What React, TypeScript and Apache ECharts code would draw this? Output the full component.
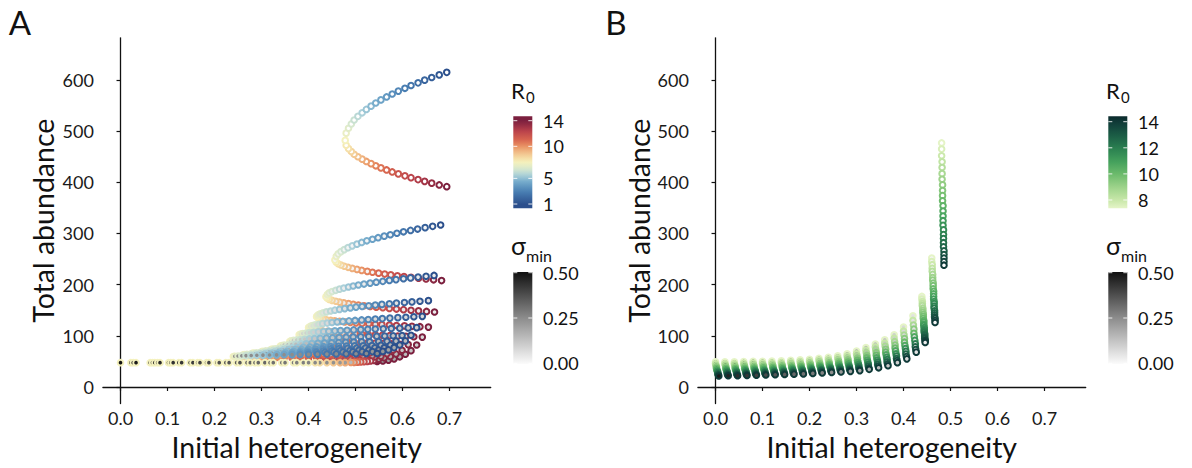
import React, { useEffect, useRef } from "react";
import * as echarts from "echarts";

// ---------------- ticks ----------------
const xTicks = [0, 0.1, 0.2, 0.3, 0.4, 0.5, 0.6, 0.7];
const yTicks = [0, 100, 200, 300, 400, 500, 600];
const r0TicksA = [1, 5, 10, 14];
const r0TicksB = [8, 10, 12, 14];
const sigmaTicks = [0, 0.25, 0.5];

// ---------------- panel A ----------------
const r0A = [1, 1.325, 1.65, 1.975, 2.3, 2.625, 2.95, 3.275, 3.6, 3.925, 4.25, 4.575, 4.9, 5.225, 5.55, 5.875, 6.2, 6.525, 6.85, 7.175, 7.5, 7.825, 8.15, 8.475, 8.8, 9.125, 9.45, 9.775, 10.1, 10.425, 10.75, 11.075, 11.4, 11.725, 12.05, 12.375, 12.7, 13.025, 13.35, 13.675, 14];
const sigmaA = [0, 0.02, 0.04, 0.06, 0.08, 0.1, 0.12, 0.14, 0.16, 0.18, 0.2, 0.22, 0.24];

const arcAX: number[][] = [
  [0.694, 0.678, 0.662, 0.647, 0.633, 0.618, 0.605, 0.591, 0.578, 0.566, 0.554, 0.543, 0.533, 0.523, 0.514, 0.505, 0.497, 0.491, 0.485, 0.48, 0.478, 0.48, 0.485, 0.491, 0.497, 0.505, 0.514, 0.523, 0.533, 0.543, 0.554, 0.566, 0.578, 0.591, 0.605, 0.618, 0.633, 0.647, 0.662, 0.678, 0.694],
  [0.681, 0.664, 0.648, 0.632, 0.617, 0.602, 0.588, 0.574, 0.561, 0.548, 0.536, 0.524, 0.513, 0.503, 0.493, 0.484, 0.476, 0.469, 0.463, 0.459, 0.456, 0.459, 0.463, 0.469, 0.476, 0.484, 0.493, 0.503, 0.513, 0.525, 0.536, 0.549, 0.562, 0.575, 0.589, 0.603, 0.618, 0.634, 0.65, 0.666, 0.683],
  [0.667, 0.65, 0.633, 0.617, 0.602, 0.586, 0.572, 0.558, 0.544, 0.531, 0.518, 0.506, 0.495, 0.485, 0.475, 0.466, 0.458, 0.45, 0.444, 0.44, 0.437, 0.44, 0.444, 0.45, 0.458, 0.466, 0.475, 0.485, 0.495, 0.506, 0.518, 0.531, 0.544, 0.558, 0.572, 0.587, 0.602, 0.618, 0.634, 0.651, 0.668],
  [0.655, 0.637, 0.62, 0.604, 0.587, 0.572, 0.556, 0.542, 0.528, 0.514, 0.501, 0.489, 0.477, 0.466, 0.456, 0.447, 0.438, 0.431, 0.425, 0.42, 0.417, 0.42, 0.425, 0.431, 0.438, 0.447, 0.456, 0.466, 0.477, 0.489, 0.501, 0.514, 0.528, 0.542, 0.556, 0.572, 0.587, 0.604, 0.62, 0.637, 0.655],
  [0.642, 0.624, 0.607, 0.59, 0.573, 0.557, 0.542, 0.527, 0.513, 0.499, 0.486, 0.473, 0.461, 0.45, 0.44, 0.43, 0.422, 0.414, 0.408, 0.403, 0.4, 0.403, 0.408, 0.414, 0.422, 0.43, 0.44, 0.45, 0.461, 0.473, 0.486, 0.499, 0.513, 0.527, 0.542, 0.557, 0.573, 0.59, 0.607, 0.624, 0.642],
  [0.63, 0.612, 0.594, 0.576, 0.559, 0.542, 0.526, 0.511, 0.496, 0.482, 0.468, 0.456, 0.443, 0.432, 0.421, 0.411, 0.402, 0.395, 0.388, 0.383, 0.38, 0.383, 0.388, 0.395, 0.402, 0.411, 0.421, 0.432, 0.443, 0.456, 0.468, 0.482, 0.496, 0.511, 0.526, 0.542, 0.559, 0.576, 0.594, 0.612, 0.63],
  [0.618, 0.599, 0.58, 0.562, 0.545, 0.528, 0.511, 0.495, 0.48, 0.465, 0.451, 0.438, 0.425, 0.413, 0.402, 0.392, 0.383, 0.375, 0.368, 0.363, 0.36, 0.363, 0.368, 0.375, 0.383, 0.392, 0.402, 0.413, 0.425, 0.438, 0.451, 0.465, 0.48, 0.495, 0.511, 0.528, 0.545, 0.562, 0.58, 0.599, 0.618],
  [0.606, 0.586, 0.567, 0.549, 0.53, 0.513, 0.496, 0.479, 0.464, 0.449, 0.434, 0.42, 0.407, 0.395, 0.384, 0.373, 0.364, 0.356, 0.348, 0.343, 0.34, 0.343, 0.348, 0.356, 0.364, 0.373, 0.384, 0.395, 0.407, 0.42, 0.434, 0.449, 0.464, 0.479, 0.496, 0.513, 0.53, 0.549, 0.567, 0.586, 0.606],
  [0.594, 0.574, 0.554, 0.535, 0.516, 0.498, 0.481, 0.464, 0.447, 0.432, 0.417, 0.403, 0.389, 0.377, 0.365, 0.354, 0.345, 0.336, 0.329, 0.323, 0.32, 0.323, 0.329, 0.336, 0.345, 0.354, 0.365, 0.377, 0.389, 0.403, 0.417, 0.432, 0.447, 0.464, 0.481, 0.498, 0.516, 0.535, 0.554, 0.574, 0.594],
  [0.582, 0.561, 0.541, 0.521, 0.502, 0.483, 0.465, 0.448, 0.431, 0.415, 0.4, 0.385, 0.371, 0.358, 0.346, 0.335, 0.325, 0.316, 0.309, 0.303, 0.3, 0.303, 0.309, 0.316, 0.325, 0.335, 0.346, 0.358, 0.371, 0.385, 0.4, 0.415, 0.431, 0.448, 0.465, 0.483, 0.502, 0.521, 0.541, 0.561, 0.582],
  [0.57, 0.549, 0.528, 0.507, 0.488, 0.468, 0.45, 0.432, 0.415, 0.398, 0.383, 0.368, 0.353, 0.34, 0.328, 0.316, 0.306, 0.297, 0.289, 0.283, 0.28, 0.283, 0.289, 0.297, 0.306, 0.316, 0.328, 0.34, 0.353, 0.368, 0.383, 0.398, 0.415, 0.432, 0.45, 0.468, 0.488, 0.507, 0.528, 0.549, 0.57],
  [0.558, 0.536, 0.514, 0.494, 0.473, 0.454, 0.435, 0.417, 0.399, 0.382, 0.365, 0.35, 0.335, 0.322, 0.309, 0.297, 0.287, 0.277, 0.269, 0.263, 0.26, 0.263, 0.269, 0.277, 0.287, 0.297, 0.309, 0.322, 0.335, 0.35, 0.365, 0.382, 0.399, 0.417, 0.435, 0.454, 0.473, 0.494, 0.514, 0.536, 0.558],
  [0.546, 0.523, 0.501, 0.48, 0.459, 0.439, 0.419, 0.4, 0.382, 0.365, 0.348, 0.332, 0.317, 0.303, 0.29, 0.278, 0.267, 0.258, 0.25, 0.243, 0.24, 0.243, 0.25, 0.258, 0.267, 0.278, 0.29, 0.303, 0.317, 0.332, 0.348, 0.365, 0.382, 0.4, 0.419, 0.439, 0.459, 0.48, 0.501, 0.523, 0.546],
];
const arcAY: number[][] = [
  [615, 610, 604.9, 599.7, 594.5, 589.2, 583.8, 578.3, 572.7, 566.9, 561.1, 555.1, 548.9, 542.5, 535.9, 529, 521.8, 514.1, 505.6, 496.1, 482, 472.4, 465.9, 460.2, 454.9, 450, 445.3, 440.8, 436.5, 432.3, 428.2, 424.2, 420.3, 416.5, 412.7, 409.1, 405.4, 401.9, 398.4, 394.9, 391.5],
  [316.6, 314, 311.4, 308.7, 306, 303.3, 300.5, 297.6, 294.8, 291.8, 288.8, 285.7, 282.5, 279.2, 275.8, 272.3, 268.5, 264.5, 260.2, 255.3, 248, 243.8, 240.9, 238.4, 236, 233.9, 231.8, 229.8, 227.9, 226, 224.2, 222.5, 220.7, 219.1, 217.4, 215.8, 214.2, 212.6, 211, 209.5, 208],
  [218, 216.4, 214.8, 213.2, 211.6, 209.9, 208.3, 206.5, 204.8, 203, 201.2, 199.3, 197.4, 195.4, 193.3, 191.2, 188.9, 186.5, 183.9, 180.9, 176.5, 173.3, 171.2, 169.3, 167.5, 165.9, 164.3, 162.9, 161.4, 160, 158.7, 157.3, 156, 154.8, 153.5, 152.3, 151.1, 149.9, 148.8, 147.6, 146.5],
  [168.7, 167.5, 166.3, 165.1, 163.9, 162.6, 161.4, 160.1, 158.8, 157.4, 156.1, 154.6, 153.2, 151.7, 150.1, 148.5, 146.8, 145, 143, 140.8, 137.5, 135.3, 133.9, 132.6, 131.4, 130.3, 129.2, 128.2, 127.2, 126.2, 125.3, 124.4, 123.5, 122.7, 121.8, 121, 120.2, 119.4, 118.6, 117.8, 117],
  [138, 137.2, 136.3, 135.5, 134.6, 133.7, 132.8, 131.9, 131, 130, 129.1, 128.1, 127.1, 126, 124.9, 123.8, 122.6, 121.3, 119.9, 118.3, 116, 114, 112.7, 111.5, 110.5, 109.5, 108.5, 107.6, 106.7, 105.8, 105, 104.2, 103.4, 102.6, 101.8, 101.1, 100.4, 99.6, 98.9, 98.2, 97.5],
  [116, 115.5, 114.9, 114.4, 113.8, 113.3, 112.7, 112.1, 111.5, 110.9, 110.3, 109.7, 109, 108.4, 107.7, 107, 106.2, 105.4, 104.5, 103.5, 102, 99.9, 98.4, 97.2, 96, 94.9, 93.9, 92.9, 91.9, 91, 90.1, 89.2, 88.4, 87.5, 86.7, 85.9, 85.1, 84.3, 83.5, 82.8, 82],
  [101, 100.5, 100.1, 99.6, 99.2, 98.7, 98.2, 97.7, 97.2, 96.7, 96.1, 95.6, 95, 94.5, 93.9, 93.2, 92.6, 91.9, 91.1, 90.3, 89, 87.1, 85.8, 84.7, 83.6, 82.6, 81.7, 80.8, 79.9, 79.1, 78.3, 77.5, 76.7, 76, 75.2, 74.5, 73.8, 73.1, 72.4, 71.7, 71],
  [90, 89.6, 89.2, 88.9, 88.5, 88.1, 87.7, 87.2, 86.8, 86.4, 85.9, 85.5, 85, 84.5, 84.1, 83.5, 83, 82.4, 81.8, 81.1, 80, 78.3, 77.2, 76.1, 75.2, 74.3, 73.5, 72.7, 72, 71.2, 70.5, 69.8, 69.1, 68.4, 67.8, 67.1, 66.5, 65.8, 65.2, 64.6, 64],
  [82, 81.7, 81.3, 81, 80.6, 80.3, 79.9, 79.5, 79.1, 78.7, 78.4, 77.9, 77.5, 77.1, 76.6, 76.2, 75.7, 75.2, 74.6, 74, 73, 71.5, 70.5, 69.6, 68.8, 68, 67.3, 66.6, 66, 65.3, 64.7, 64.1, 63.5, 62.9, 62.3, 61.7, 61.2, 60.6, 60.1, 59.5, 59],
  [77, 76.7, 76.4, 76.1, 75.8, 75.4, 75.1, 74.8, 74.5, 74.1, 73.8, 73.4, 73, 72.6, 72.2, 71.8, 71.4, 70.9, 70.4, 69.8, 69, 68.7, 68.4, 68.2, 67.9, 67.6, 67.3, 67, 66.6, 66.2, 65.6, 65.1, 64.4, 63.7, 62.8, 62, 61, 59.9, 58.6, 57, 55],
  [72.5, 72.2, 72, 71.7, 71.4, 71.1, 70.9, 70.6, 70.3, 70, 69.7, 69.3, 69, 68.7, 68.3, 68, 67.6, 67.2, 66.7, 66.2, 65.5, 65.2, 65, 64.7, 64.5, 64.2, 63.9, 63.7, 63.3, 62.9, 62.4, 61.9, 61.2, 60.6, 59.8, 59, 58.1, 57.1, 55.9, 54.3, 52.5],
  [69.5, 69.2, 69, 68.7, 68.4, 68.1, 67.9, 67.6, 67.3, 67, 66.7, 66.3, 66, 65.7, 65.3, 65, 64.6, 64.2, 63.7, 63.2, 62.5, 62.3, 62, 61.8, 61.6, 61.4, 61.1, 60.9, 60.5, 60.2, 59.7, 59.3, 58.7, 58.1, 57.4, 56.8, 55.9, 55, 54, 52.6, 51],
  [65.5, 65.3, 65, 64.8, 64.6, 64.3, 64.1, 63.8, 63.6, 63.3, 63.1, 62.8, 62.5, 62.2, 61.9, 61.6, 61.3, 60.9, 60.6, 60.1, 59.5, 59.3, 59.1, 58.9, 58.7, 58.6, 58.4, 58.2, 57.9, 57.6, 57.2, 56.8, 56.4, 55.9, 55.3, 54.8, 54.1, 53.3, 52.5, 51.3, 50],
];

const flatX = [0, 0.022, 0.027, 0.033, 0.063, 0.068, 0.073, 0.079, 0.084, 0.102, 0.107, 0.112, 0.124, 0.13, 0.148, 0.154, 0.164, 0.169, 0.183, 0.188, 0.205, 0.21, 0.224, 0.231, 0.247, 0.254, 0.269, 0.276, 0.286, 0.293, 0.307, 0.318, 0.325, 0.343, 0.35, 0.368, 0.375, 0.389, 0.4, 0.414, 0.424, 0.439, 0.453, 0.467, 0.478, 0.49, 0.497, 0.504, 0.511, 0.518, 0.525, 0.532, 0.539, 0.546];
const flatY = [47.5, 47.5, 47.5, 47.5, 47.5, 47.5, 47.5, 47.5, 47.5, 47.5, 47.5, 47.5, 47.5, 47.5, 47.5, 47.5, 47.5, 47.5, 47.5, 47.5, 47.5, 47.5, 47.5, 47.5, 47.5, 47.5, 47.5, 47.5, 47.5, 47.5, 47.5, 47.5, 47.5, 47.5, 47.5, 47.5, 47.5, 47.5, 47.5, 47.5, 47.5, 47.5, 47.5, 47.5, 47.5, 48, 48, 48.5, 49, 49.5, 50, 51, 52, 53];
const flatR0 = [7.5, 7.5, 7.5, 7.5, 7.5, 7.5, 7.5, 7.5, 7.5, 7.5, 7.5, 7.5, 7.5, 7.5, 7.5, 7.5, 7.5, 7.5, 7.5, 7.5, 7.5, 7.5, 7.5, 7.5, 7.5, 7.5, 7.5, 7.5, 7.5, 7.5, 7.5, 7.5, 7.5, 7.5, 7.5, 7.5, 7.5, 7.5, 7.5, 8, 8.2, 8.5, 8.8, 9.2, 9.5, 10, 10.5, 11, 11.5, 12, 12.5, 13, 13.5, 14];
const flatSigma = [0.5, 0.49, 0.48, 0.48, 0.46, 0.46, 0.46, 0.45, 0.45, 0.44, 0.44, 0.43, 0.43, 0.42, 0.41, 0.41, 0.4, 0.4, 0.39, 0.39, 0.38, 0.37, 0.37, 0.36, 0.35, 0.35, 0.34, 0.33, 0.33, 0.32, 0.32, 0.31, 0.3, 0.29, 0.29, 0.28, 0.27, 0.27, 0.26, 0.25, 0.25, 0.24, 0.23, 0.22, 0.21, 0.15, 0.12, 0.1, 0.08, 0.06, 0.05, 0.04, 0.03, 0.02];

// ---------------- panel B ----------------
const r0BLong = [7.4, 7.66, 7.93, 8.19, 8.46, 8.72, 8.98, 9.25, 9.51, 9.78, 10.04, 10.3, 10.57, 10.83, 11.1, 11.36, 11.62, 11.89, 12.15, 12.42, 12.68, 12.94, 13.21, 13.47, 13.74, 14];
const r0BShort = [7.4, 8.06, 8.72, 9.38, 10.04, 10.7, 11.36, 12.02, 12.68, 13.34, 14];
const sigmaB = [0.48, 0.46, 0.44, 0.42, 0.4, 0.38, 0.36, 0.34, 0.32, 0.3, 0.28, 0.26, 0.24, 0.22, 0.2, 0.18, 0.16, 0.14, 0.12, 0.1, 0.08, 0.06, 0.04, 0.02, 0];

const colBX: number[][] = [
  [0, 0, 0.001, 0.002, 0.002, 0.003, 0.004, 0.005, 0.005, 0.006, 0.007],
  [0.02, 0.02, 0.021, 0.022, 0.022, 0.023, 0.024, 0.025, 0.025, 0.026, 0.027],
  [0.04, 0.04, 0.041, 0.042, 0.042, 0.043, 0.044, 0.045, 0.045, 0.046, 0.047],
  [0.06, 0.06, 0.061, 0.062, 0.062, 0.063, 0.064, 0.065, 0.065, 0.066, 0.067],
  [0.08, 0.08, 0.081, 0.082, 0.082, 0.083, 0.084, 0.085, 0.085, 0.086, 0.087],
  [0.1, 0.1, 0.101, 0.102, 0.102, 0.103, 0.104, 0.105, 0.105, 0.106, 0.107],
  [0.12, 0.12, 0.121, 0.122, 0.122, 0.123, 0.124, 0.125, 0.125, 0.126, 0.127],
  [0.14, 0.14, 0.141, 0.142, 0.142, 0.143, 0.144, 0.145, 0.145, 0.146, 0.147],
  [0.16, 0.16, 0.161, 0.162, 0.162, 0.163, 0.164, 0.165, 0.165, 0.166, 0.167],
  [0.18, 0.18, 0.181, 0.182, 0.182, 0.183, 0.184, 0.185, 0.185, 0.186, 0.187],
  [0.2, 0.2, 0.201, 0.202, 0.202, 0.203, 0.204, 0.205, 0.205, 0.206, 0.207],
  [0.22, 0.22, 0.221, 0.222, 0.222, 0.223, 0.224, 0.225, 0.225, 0.226, 0.227],
  [0.24, 0.24, 0.241, 0.242, 0.242, 0.243, 0.244, 0.245, 0.245, 0.246, 0.247],
  [0.26, 0.26, 0.261, 0.262, 0.262, 0.263, 0.264, 0.265, 0.265, 0.266, 0.267],
  [0.28, 0.28, 0.281, 0.282, 0.282, 0.283, 0.284, 0.285, 0.285, 0.286, 0.287],
  [0.3, 0.3, 0.301, 0.302, 0.302, 0.303, 0.304, 0.305, 0.305, 0.306, 0.307],
  [0.32, 0.32, 0.321, 0.322, 0.322, 0.323, 0.324, 0.325, 0.325, 0.326, 0.327],
  [0.34, 0.34, 0.341, 0.342, 0.342, 0.343, 0.344, 0.345, 0.345, 0.346, 0.347],
  [0.36, 0.36, 0.361, 0.362, 0.362, 0.363, 0.364, 0.365, 0.365, 0.366, 0.367],
  [0.38, 0.38, 0.381, 0.382, 0.382, 0.383, 0.384, 0.385, 0.385, 0.386, 0.387],
  [0.4, 0.4, 0.401, 0.402, 0.402, 0.403, 0.404, 0.405, 0.405, 0.406, 0.407],
  [0.42, 0.42, 0.421, 0.422, 0.422, 0.423, 0.424, 0.425, 0.425, 0.426, 0.427],
  [0.439, 0.439, 0.44, 0.44, 0.44, 0.441, 0.441, 0.441, 0.442, 0.442, 0.442, 0.443, 0.443, 0.443, 0.443, 0.444, 0.444, 0.444, 0.444, 0.445, 0.445, 0.445, 0.445, 0.446, 0.446, 0.446],
  [0.46, 0.46, 0.461, 0.461, 0.461, 0.462, 0.462, 0.462, 0.463, 0.463, 0.463, 0.464, 0.464, 0.464, 0.464, 0.465, 0.465, 0.465, 0.465, 0.466, 0.466, 0.466, 0.466, 0.467, 0.467, 0.467],
  [0.481, 0.481, 0.481, 0.482, 0.482, 0.482, 0.482, 0.483, 0.483, 0.483, 0.483, 0.484, 0.484, 0.484, 0.484, 0.484, 0.485, 0.485, 0.485, 0.485, 0.485, 0.486, 0.486, 0.486, 0.486, 0.486],
];
const colBY: number[][] = [
  [49, 45.5, 42, 39, 36, 33, 30.5, 28, 25.5, 23.5, 21.5],
  [49, 45.5, 42.5, 39, 36, 33.5, 31, 28.5, 26, 24, 22],
  [49, 45.5, 42.5, 39, 36, 33.5, 31, 28.5, 26, 24, 22],
  [49.5, 46, 43, 39.5, 36.5, 34, 31.5, 29, 26.5, 24.5, 22.5],
  [50, 46.5, 43.5, 40, 37, 34.5, 32, 29.5, 27, 25, 23],
  [50, 46.5, 43.5, 40.5, 37.5, 34.5, 32, 29.5, 27.5, 25.5, 23.5],
  [50.5, 47, 44, 41, 38, 35, 32.5, 30, 28, 26, 24],
  [51, 47.5, 44.5, 41.5, 38.5, 35.5, 33, 30.5, 28.5, 26.5, 24.5],
  [52, 48.5, 45.5, 42, 39, 36.5, 34, 31.5, 29, 27, 25],
  [53, 49.5, 46, 43, 40, 37, 34.5, 32, 29.5, 27.5, 25.5],
  [54, 50.5, 47, 44, 41, 38, 35.5, 33, 30.5, 28.5, 26.5],
  [56, 52.5, 49, 45.5, 42.5, 39.5, 37, 34, 32, 29.5, 27.5],
  [58, 54, 50.5, 47, 44, 41, 38, 35.5, 33, 30.5, 28.5],
  [61, 57, 53, 49.5, 46, 43, 39.5, 37, 34, 31.5, 29.5],
  [65, 60.5, 56.5, 52.5, 48.5, 45, 41.5, 38.5, 35.5, 33, 30.5],
  [70, 65, 60.5, 56, 52, 48, 44.5, 41, 37.5, 34.5, 32],
  [77, 71.5, 66.5, 61.5, 57, 52.5, 48.5, 44.5, 41, 37.5, 34.5],
  [84, 78, 72.5, 67, 62, 57, 52.5, 48.5, 44.5, 41, 37.5],
  [92, 85.5, 79.5, 73.5, 68, 63, 58, 53.5, 49, 45, 41.5],
  [102, 95, 88.5, 82, 76, 70.5, 65, 60.5, 55.5, 51.5, 47.5],
  [117, 109, 101.5, 94.5, 87.5, 81, 75, 69.5, 64.5, 59.5, 55],
  [139, 130, 121, 113, 105, 98, 91, 84.5, 78.5, 73, 68],
  [177, 172, 167, 163, 159, 154, 150, 146, 142, 138, 134, 130, 127, 123, 120, 116, 113, 110, 107, 104, 101, 98, 95, 92, 90, 87],
  [252, 245, 239, 232, 226, 220, 214, 209, 203, 198, 192, 187, 182, 177, 172, 167, 163, 158, 154, 149, 145, 141, 137, 134, 130, 126],
  [477, 465, 452, 440, 429, 417, 406, 395, 384, 374, 364, 354, 344, 334, 325, 316, 307, 298, 290, 282, 274, 266, 259, 252, 245, 238],
];

// ---------------- styling helpers ----------------
const FONT = 'Lato, "Open Sans", "DejaVu Sans", sans-serif';
const paletteA: [number, string][] = [
  [1, "#2b4f8c"], [3, "#4a7fb3"], [4.5, "#74aacb"], [5.5, "#a9cfd9"], [6.5, "#d6e8cf"],
  [7.5, "#f4f1be"], [8, "#f5e4ad"], [9, "#f2c28c"], [10, "#ea9666"], [11, "#d9674f"],
  [12.5, "#b8404a"], [14, "#7b1f3e"],
];
const paletteB: [number, string][] = [
  [7.4, "#e5f4c7"], [8, "#c9e8aa"], [9, "#9ed38b"], [10, "#6dbb6c"], [11, "#43a05c"],
  [12, "#2a7f50"], [13, "#1b5c45"], [14, "#0f3a38"], [14.44, "#0b2a2c"],
];

function hexRgb(h: string) {
  const n = parseInt(h.slice(1), 16);
  return [(n >> 16) & 255, (n >> 8) & 255, n & 255];
}
function palColor(pal: [number, string][], v: number) {
  if (v <= pal[0][0]) return pal[0][1];
  if (v >= pal[pal.length - 1][0]) return pal[pal.length - 1][1];
  for (let i = 0; i < pal.length - 1; i++) {
    const [a, ca] = pal[i];
    const [b, cb] = pal[i + 1];
    if (v >= a && v <= b) {
      const t = (v - a) / (b - a);
      const A = hexRgb(ca), B = hexRgb(cb);
      const c = A.map((x, k) => Math.round(x + (B[k] - x) * t));
      return `rgb(${c[0]},${c[1]},${c[2]})`;
    }
  }
  return pal[0][1];
}
function grayFill(s: number) {
  const g = Math.max(17, Math.min(255, Math.round(255 - (s / 0.5) * 238)));
  return `rgb(${g},${g},${g})`;
}
function pt(x: number, y: number, stroke: string, fill: string) {
  return { value: [x, y], itemStyle: { color: fill, borderColor: stroke } };
}

const GRID_TOP = 37.8;
const GRID_H = 365.8;
const GRID_W = 387.8;
const GRID_A_LEFT = 102.9;
const GRID_B_LEFT = 697.9;

function legendGraphics(dx: number, pal: [number, string][], lo: number, hi: number, ticks: number[], y14: number, pxPerUnit: number) {
  const els: any[] = [];
  const barX = 513.3 + dx;
  const barTop = 116.3;
  const barBot = 208.3;
  const yOf = (v: number) => y14 + (14 - v) * pxPerUnit;
  const stops: any[] = [];
  const n = 24;
  for (let i = 0; i <= n; i++) {
    const v = hi - ((hi - lo) * i) / n;
    stops.push({ offset: i / n, color: palColor(pal, v) });
  }
  els.push({ type: "text", x: 511 + dx, y: 90.5, style: { text: "R", fontSize: 22, fontFamily: FONT, fill: "#111", align: "left", verticalAlign: "middle" } });
  els.push({ type: "text", x: 526 + dx, y: 97, style: { text: "0", fontSize: 15, fontFamily: FONT, fill: "#111", align: "left", verticalAlign: "middle" } });
  els.push({ type: "rect", shape: { x: barX, y: barTop, width: 19, height: barBot - barTop }, style: { fill: new echarts.graphic.LinearGradient(0, 0, 0, 1, stops) } });
  ticks.forEach((t) => {
    const y = yOf(t);
    els.push({ type: "line", shape: { x1: barX, y1: y, x2: barX + 4, y2: y }, style: { stroke: "rgba(255,255,255,0.85)", lineWidth: 1 } });
    els.push({ type: "line", shape: { x1: barX + 15, y1: y, x2: barX + 19, y2: y }, style: { stroke: "rgba(255,255,255,0.85)", lineWidth: 1 } });
    els.push({ type: "text", x: 543 + dx, y: y, style: { text: String(t), fontSize: 18, fontFamily: FONT, fill: "#111", align: "left", verticalAlign: "middle" } });
  });
  // sigma legend
  els.push({ type: "text", x: 511 + dx, y: 245, style: { text: "σ", fontSize: 25, fontFamily: FONT, fill: "#111", align: "left", verticalAlign: "middle" } });
  els.push({ type: "text", x: 526 + dx, y: 255.5, style: { text: "min", fontSize: 16, fontFamily: FONT, fill: "#111", align: "left", verticalAlign: "middle" } });
  els.push({ type: "rect", shape: { x: barX, y: 272, width: 19, height: 92 }, style: { fill: new echarts.graphic.LinearGradient(0, 0, 0, 1, [{ offset: 0, color: "#111111" }, { offset: 0.5, color: "#8c8c8c" }, { offset: 1, color: "#fbfbfb" }]) } });
  sigmaTicks.forEach((s) => {
    const y = 363.3 - s * 181.2;
    els.push({ type: "line", shape: { x1: barX, y1: y, x2: barX + 4, y2: y }, style: { stroke: "rgba(255,255,255,0.85)", lineWidth: 1 } });
    els.push({ type: "line", shape: { x1: barX + 15, y1: y, x2: barX + 19, y2: y }, style: { stroke: "rgba(255,255,255,0.85)", lineWidth: 1 } });
    els.push({ type: "text", x: 543 + dx, y: y, style: { text: s.toFixed(2), fontSize: 18, fontFamily: FONT, fill: "#111", align: "left", verticalAlign: "middle" } });
  });
  return els;
}

function makeAxes(gridIndex: number) {
  const common = {
    gridIndex,
    type: "value" as const,
    axisLine: { show: true, lineStyle: { color: "#111", width: 1.3 } },
    splitLine: { show: false },
  };
  const xAxis = {
    ...common,
    min: -0.0375,
    max: 0.7875,
    axisTick: { show: true, length: 4, customValues: xTicks, lineStyle: { color: "#111", width: 1.2 } },
    axisLabel: { customValues: xTicks, formatter: (v: number) => v.toFixed(1), fontSize: 18, fontFamily: FONT, color: "#1a1a1a", margin: 5 },
  };
  const yAxis = {
    ...common,
    min: -32.5,
    max: 682.5,
    axisTick: { show: true, length: 4, customValues: yTicks, lineStyle: { color: "#111", width: 1.2 } },
    axisLabel: { customValues: yTicks, formatter: (v: number) => String(Math.round(v)), fontSize: 18, fontFamily: FONT, color: "#1a1a1a", margin: 9 },
  };
  return { xAxis, yAxis };
}

export default function App() {
  const ref = useRef<HTMLDivElement>(null);
  useEffect(() => {
    document.body.style.margin = "0";
    if (!ref.current) return;
    const chart = echarts.init(ref.current, undefined, { renderer: "svg" });

    // panel A: points gathered with their R0, then drawn from high R0 to low R0
    const rawA: { r: number; p: any }[] = [];
    for (let k = arcAX.length - 1; k >= 0; k--) {
      arcAX[k].forEach((x, j) => rawA.push({ r: r0A[j], p: pt(x, arcAY[k][j], palColor(paletteA, r0A[j]), grayFill(sigmaA[k])) }));
    }
    flatX.forEach((x, i) => rawA.push({ r: flatR0[i], p: pt(x, flatY[i], palColor(paletteA, flatR0[i]), grayFill(flatSigma[i])) }));
    const dataA = rawA
      .map((d, i) => ({ ...d, i }))
      .sort((a, b) => (b.r - a.r) || (a.i - b.i))
      .map((d) => d.p);

    const dataB: any[] = [];
    colBX.forEach((xs, c) => {
      const r0s = xs.length === r0BLong.length ? r0BLong : r0BShort;
      xs.forEach((x, j) => dataB.push(pt(x, colBY[c][j], palColor(paletteB, r0s[j]), grayFill(sigmaB[c]))));
    });

    const a = makeAxes(0);
    const b = makeAxes(1);

    const titleStyle = { fontSize: 28.5, fontFamily: FONT, fill: "#111", align: "center", verticalAlign: "middle" };
    const graphics: any[] = [
      { type: "text", x: 20, y: 22, style: { text: "A", fontSize: 33, fontFamily: FONT, fill: "#111", align: "center", verticalAlign: "middle" } },
      { type: "text", x: 616, y: 22, style: { text: "B", fontSize: 33, fontFamily: FONT, fill: "#111", align: "center", verticalAlign: "middle" } },
      { type: "text", x: GRID_A_LEFT + GRID_W / 2, y: 447, style: { text: "Initial heterogeneity", ...titleStyle } },
      { type: "text", x: GRID_B_LEFT + GRID_W / 2, y: 447, style: { text: "Initial heterogeneity", ...titleStyle } },
      { type: "text", x: 43, y: GRID_TOP + GRID_H / 2, rotation: Math.PI / 2, style: { text: "Total abundance", ...titleStyle } },
      { type: "text", x: 639, y: GRID_TOP + GRID_H / 2, rotation: Math.PI / 2, style: { text: "Total abundance", ...titleStyle } },
      ...legendGraphics(0, paletteA, 0.38, 14.73, r0TicksA, 120.7, 6.41),
      ...legendGraphics(595, paletteB, 7.4, 14.44, r0TicksB, 121.7, 13.05),
    ];

    const seriesStyle = {
      type: "scatter" as const,
      symbol: "circle",
      symbolSize: 5.6,
      silent: true,
      emphasis: { disabled: true },
      itemStyle: { borderWidth: 2, opacity: 1 },
    };

    chart.setOption({
      animation: false,
      grid: [
        { left: GRID_A_LEFT, top: GRID_TOP, width: GRID_W, height: GRID_H },
        { left: GRID_B_LEFT, top: GRID_TOP, width: GRID_W, height: GRID_H },
      ],
      xAxis: [a.xAxis, b.xAxis],
      yAxis: [a.yAxis, b.yAxis],
      series: [
        { ...seriesStyle, xAxisIndex: 0, yAxisIndex: 0, data: dataA },
        { ...seriesStyle, xAxisIndex: 1, yAxisIndex: 1, data: dataB },
      ],
      graphic: graphics,
    });
    return () => chart.dispose();
  }, []);
  return <div ref={ref} style={{ width: 1192, height: 468 }} />;
}
